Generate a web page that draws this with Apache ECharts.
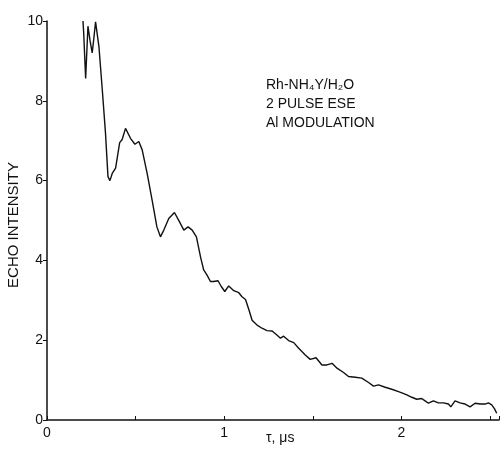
<!DOCTYPE html>
<html>
<head>
<meta charset="utf-8">
<script src="https://cdn.jsdelivr.net/npm/echarts@6/dist/echarts.min.js"></script>
<style>
html,body{margin:0;padding:0;background:#fff;}
#main{width:502px;height:452px;}
</style>
</head>
<body>
<div id="main"></div>
<script>
// tau (microseconds) and echo intensity
var tau = [0.203,0.207,0.218,0.231,0.243,0.255,0.265,0.274,0.293,0.312,0.33,0.344,0.355,0.368,0.387,0.41,0.424,0.443,0.471,0.496,0.518,0.537,0.565,0.593,0.62,0.64,0.659,0.687,0.719,0.747,0.772,0.796,0.819,0.843,0.866,0.884,0.903,0.922,0.94,0.965,0.984,1.003,1.025,1.054,1.082,1.1,1.12,1.14,1.157,1.185,1.213,1.241,1.27,1.297,1.317,1.335,1.363,1.392,1.42,1.457,1.485,1.518,1.551,1.579,1.608,1.636,1.673,1.701,1.739,1.776,1.814,1.842,1.87,1.908,1.945,1.983,2.002,2.03,2.058,2.086,2.114,2.133,2.152,2.18,2.208,2.237,2.265,2.278,2.302,2.33,2.359,2.387,2.415,2.444,2.472,2.49,2.509,2.525,2.537];
var echo = [10.0,9.7,8.56,9.87,9.5,9.2,9.6,9.98,9.36,8.27,7.19,6.1,6.0,6.18,6.31,6.95,7.03,7.31,7.06,6.91,6.98,6.77,6.18,5.51,4.84,4.59,4.76,5.05,5.2,4.97,4.76,4.84,4.76,4.59,4.09,3.76,3.63,3.47,3.47,3.49,3.34,3.22,3.36,3.24,3.19,3.09,3.02,2.75,2.5,2.38,2.3,2.24,2.23,2.13,2.05,2.1,1.99,1.94,1.8,1.63,1.52,1.56,1.38,1.38,1.42,1.3,1.19,1.09,1.07,1.05,0.94,0.85,0.88,0.82,0.77,0.71,0.68,0.63,0.57,0.52,0.54,0.48,0.42,0.48,0.43,0.43,0.4,0.33,0.48,0.43,0.4,0.33,0.42,0.4,0.4,0.43,0.38,0.28,0.17];
var xTickLabels = {0:'0',1:'1',2:'2'};
var yTicks = [0,2,4,6,8,10];
var noteLines = ['Rh-NH\u2084Y/H\u2082O','2 PULSE ESE','Al MODULATION'];

var pts = [];
for (var i = 0; i < tau.length; i++) {
	pts.push([tau[i], echo[i]]);
}

var font = 'Liberation Sans, DejaVu Sans, sans-serif';
var myChart = echarts.init(document.getElementById('main'));
var option = {
	animation: false,
	backgroundColor: '#fff',
	grid: {left: 47, right: 2, top: 21, bottom: 32, containLabel: false},
	xAxis: {
		type: 'value',
		min: 0,
		max: 2.55,
		interval: 0.5,
		axisLine: {lineStyle: {color: '#111', width: 1.5}},
		axisTick: {inside: true, length: 4, lineStyle: {color: '#111'}},
		splitLine: {show: false},
		axisLabel: {
			color: '#111', fontFamily: font, fontSize: 14, margin: 6,
			formatter: function (v) {
				return xTickLabels[v] !== undefined ? xTickLabels[v] : '';
			}
		}
	},
	yAxis: {
		type: 'value',
		min: 0,
		max: 10,
		interval: 2,
		axisLine: {show: true, lineStyle: {color: '#111', width: 1.5}},
		axisTick: {show: true, length: 4, lineStyle: {color: '#111'}},
		splitLine: {show: false},
		axisLabel: {
			color: '#111', fontFamily: font, fontSize: 14, margin: 4,
			formatter: function (v) { return yTicks.indexOf(v) >= 0 ? String(v) : ''; }
		}
	},
	graphic: [
		{
			type: 'text', x: 14, y: 225, rotation: Math.PI / 2,
			style: {text: 'ECHO INTENSITY', fill: '#111', font: '15px ' + font, align: 'center', verticalAlign: 'middle'}
		},
		{
			type: 'text', left: 266, top: 431,
			style: {text: '\u03c4, \u03bcs', fill: '#111', font: '14px ' + font}
		},
		{
			type: 'text', left: 266, top: 76,
			style: {text: noteLines.join('\n'), fill: '#111', font: '14px ' + font, lineHeight: 19}
		}
	],
	series: [{
		type: 'line',
		data: pts,
		showSymbol: false,
		smooth: false,
		lineStyle: {color: '#111', width: 1.4}
	}]
};
myChart.setOption(option);
</script>
</body>
</html>
